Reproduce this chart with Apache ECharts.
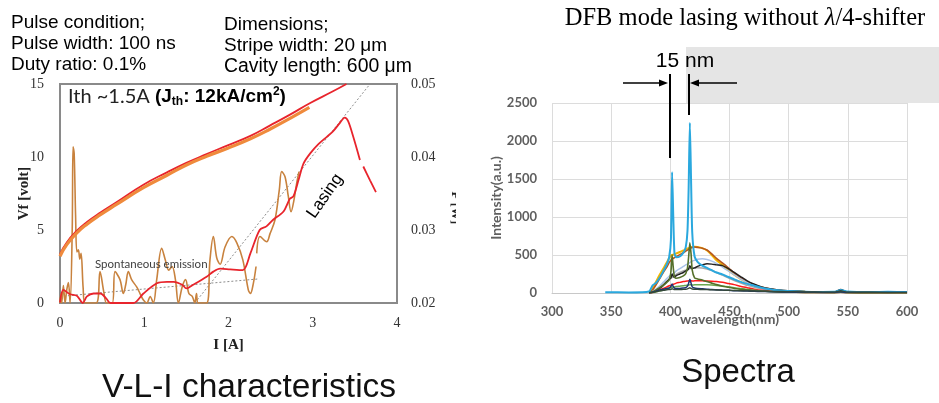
<!DOCTYPE html>
<html><head><meta charset="utf-8">
<script src="https://cdn.jsdelivr.net/npm/echarts@6/dist/echarts.min.js"></script>
<style>html,body{margin:0;padding:0;background:#fff}#c{width:939px;height:403px}</style>
</head><body><div id="c"></div>
<script>
// ---------- V-L-I characteristics (left) ----------
const vRedI   = [0, 0.08, 0.2, 0.32, 0.48, 0.67, 0.99, 1.27, 1.5, 1.74, 1.99, 2.26, 2.49, 2.73, 2.97, 3.24, 3.40];
const vRedV   = [3.35, 4.15, 4.95, 5.55, 6.2, 6.9, 8.1, 8.95, 9.6, 10.2, 10.8, 11.45, 12.15, 12.9, 13.7, 14.5, 15.0];
const vOrgI   = [0, 0.08, 0.2, 0.32, 0.48, 0.67, 0.99, 1.27, 1.5, 1.74, 1.99, 2.26, 2.49, 2.73, 2.96];
const vOrgV   = [3.2, 4.0, 4.8, 5.4, 6.05, 6.75, 7.9, 8.75, 9.45, 10.05, 10.6, 11.25, 11.9, 12.65, 13.4];
const lRedI   = [0, 0.04, 0.12, 0.2, 0.27, 0.32, 0.4, 0.48, 0.55, 0.6, 0.87, 0.99, 1.15, 1.27, 1.35, 1.45, 1.5, 1.58, 1.74, 1.82, 1.9, 2.02, 2.17, 2.26, 2.37, 2.45, 2.53, 2.65, 2.73, 2.77, 2.83, 2.89, 2.97, 3.07, 3.17, 3.24, 3.31, 3.38, 3.42, 3.48, 3.56, 3.58, 3.60, 3.68, 3.75];
const lRedP   = [0.0201, 0.0218, 0.0212, 0.0210, 0.0200, 0.0209, 0.0213, 0.0213, 0.0206, 0.0200, 0.0200, 0.0213, 0.0227, 0.0229, 0.0229, 0.0225, 0.0220, 0.0225, 0.0236, 0.0243, 0.0247, 0.0246, 0.0245, 0.0268, 0.0300, 0.0305, 0.0314, 0.0325, 0.0343, 0.0346, 0.0368, 0.0391, 0.0405, 0.0418, 0.0428, 0.0435, 0.0445, 0.0454, 0.0449, 0.0428, 0.0396, null, 0.0387, 0.0368, 0.0352];
const lOrgI   = [0, 0.01, 0.02, 0.04, 0.06, 0.08, 0.10, 0.12, 0.145, 0.155, 0.168, 0.185, 0.20, 0.218, 0.235, 0.25, 0.275, 0.297, 0.43, 0.475, 0.52, 0.554, 0.62, 0.653, 0.712, 0.752, 0.78, 0.811, 0.85, 0.91, 0.95, 0.99, 1.03, 1.07, 1.108, 1.148, 1.207, 1.25, 1.29, 1.33, 1.37, 1.405, 1.45, 1.49, 1.53, 1.57, 1.60, 1.62, 1.64, 1.74, 1.78, 1.82, 1.86, 1.90, 1.96, 2.04, 2.10, 2.17, 2.235, 2.26, 2.295, 2.327, 2.331, 2.335, 2.374, 2.453, 2.493, 2.552, 2.603, 2.631, 2.671, 2.710, 2.742, 2.777, 2.809, 2.837];
const lOrgP   = [0.0200, 0.0213, 0.0200, 0.0224, 0.0200, 0.0218, 0.0228, 0.0200, 0.0300, 0.0414, 0.0405, 0.0320, 0.0270, 0.0273, 0.0260, 0.0268, 0.0220, 0.0200, 0.0200, 0.0243, 0.0215, 0.0200, 0.0200, 0.0243, 0.0232, 0.0213, 0.0225, 0.0243, 0.0232, 0.0222, 0.0213, 0.0204, 0.0200, 0.0209, 0.0200, 0.0232, 0.0275, 0.0259, 0.0245, 0.0250, 0.0232, 0.0200, 0.0222, 0.0232, 0.0213, 0.0209, 0.0200, 0.0213, 0.0200, 0.0200, 0.0259, 0.0291, 0.0262, 0.0253, 0.0277, 0.0291, 0.0282, 0.0259, 0.0218, 0.0213, 0.0227, 0.0250, null, 0.0268, 0.0291, 0.0284, 0.0295, 0.0314, 0.0355, 0.0380, 0.0373, 0.0346, 0.0325, 0.0341, 0.0364, 0.0380];
const fitSpontI = [0, 2.36];
const fitSpontP = [0.0209, 0.0233];
const fitLaseI  = [1.6, 3.68];
const fitLaseP  = [0.020, 0.050];
const vliXTicks = [0, 4, 1];      // min, max, interval
const vliVTicks = [0, 15, 5];
const vliPTicks = [0.02, 0.05, 0.01];

// ---------- Spectra (right) ----------
const wl = [345, 365, 382, 385, 388, 391, 394, 397, 399, 400.5, 401.5, 402.5, 403.5, 405, 408, 411, 413, 414.5, 415.5, 416.5, 417.5, 418.5, 420.5, 423, 427, 431, 435, 439, 444, 449, 454, 459, 465, 471, 477, 484, 491, 499, 514, 529, 539, 544, 549, 569, 584, 600];
const spLasing = [10, 8, 20, 100, 135, 200, 285, 375, 470, 700, 1590, 1000, 520, 470, 480, 530, 600, 820, 1400, 2240, 1500, 800, 480, 410, 360, 330, 300, 270, 245, 210, 180, 150, 120, 95, 70, 50, 35, 25, 18, 14, 15, 40, 20, 12, 15, 12];
const spGold   = [null, null, 5, 60, 150, 240, 320, 400, 460, 490, 500, 505, 510, 520, 540, 560, 575, 585, 590, 595, 600, 605, 610, 605, 590, 560, 500, 430, 370, 300, 240, 190, 140, 100, 70, 45, 30, 22, 15, 12, 10, 22, 10, 8, 8, 6];
const spBrown  = [null, null, 4, 40, 110, 190, 270, 340, 400, 430, 445, 455, 465, 480, 505, 530, 550, 565, 575, 585, 595, 600, 605, 600, 590, 565, 515, 455, 395, 330, 265, 205, 150, 110, 78, 55, 38, 28, 18, 14, 12, 28, 12, 10, 9, 7];
const spLav    = [null, null, 4, 20, 50, 90, 140, 190, 220, 235, 245, 255, 265, 290, 320, 350, 370, 380, 390, 400, 410, 420, 430, 445, 450, 440, 420, 390, 340, 290, 240, 190, 140, 100, 70, 50, 35, 25, 15, 10, 10, 20, 10, 8, 6, 6];
const spGray   = [null, null, 3, 15, 40, 70, 110, 150, 180, 195, 205, 215, 225, 245, 270, 290, 300, 310, 315, 320, 325, 328, 330, 332, 328, 315, 295, 270, 235, 200, 165, 135, 100, 75, 55, 40, 30, 22, 14, 10, 10, 18, 9, 7, 6, 5];
const spBlack  = [null, null, 3, 10, 30, 60, 100, 150, 180, 200, 250, 220, 205, 230, 250, 270, 290, 300, 320, 360, 330, 320, 330, 350, 370, 385, 380, 370, 360, 320, 270, 220, 160, 115, 80, 55, 40, 28, 18, 12, 14, 45, 15, 10, 8, 10];
const spRed    = [null, null, 2, 8, 20, 40, 60, 80, 95, 100, 110, 115, 120, 130, 140, 150, 155, 158, 160, 165, 160, 158, 160, 162, 160, 158, 155, 150, 140, 125, 110, 90, 70, 50, 35, 25, 18, 12, 8, 6, 5, 10, 5, 4, 4, 3];
const spGreen  = [null, null, 2, 6, 15, 25, 40, 55, 65, 70, 75, 78, 80, 85, 90, 95, 100, 102, 105, 110, 108, 105, 108, 110, 110, 108, 105, 100, 92, 82, 70, 58, 45, 35, 26, 20, 15, 10, 7, 5, 5, 10, 5, 4, 3, 3];
const spOlive  = [null, null, 3, 15, 40, 70, 100, 140, 170, 280, 500, 330, 210, 195, 205, 225, 255, 330, 480, 660, 520, 300, 200, 185, 170, 150, 130, 110, 90, 75, 60, 50, 40, 30, 25, 20, 15, 12, 8, 6, 6, 12, 6, 5, 4, 4];
const spNavy   = [null, null, 2, 10, 25, 40, 50, 60, 65, 85, 120, 85, 65, 60, 60, 65, 70, 90, 130, 180, 130, 80, 65, 60, 55, 50, 45, 42, 38, 35, 30, 28, 25, 22, 20, 18, 15, 12, 10, 8, 8, 15, 8, 6, 5, 5];
const spSlate  = [null, null, 2, 8, 18, 28, 35, 42, 45, 48, 55, 50, 45, 44, 46, 48, 50, 55, 62, 70, 60, 52, 50, 48, 46, 44, 42, 40, 38, 36, 33, 30, 28, 26, 24, 22, 20, 18, 14, 12, 12, 30, 12, 10, 8, 8];
const spXTicks = [300, 600, 50];
const spYTicks = [0, 2500, 500];

function pairs(xs, ys) {
  const out = [];
  xs.forEach((x, i) => { out.push(ys[i] == null ? [x, '-'] : [x, ys[i]]); });
  return out;
}
function pairsSkip(xs, ys) {
  const out = [];
  xs.forEach((x, i) => { if (ys[i] != null) out.push([x, ys[i]]); });
  return out;
}

const serif = 'Liberation Serif';
const sans = 'Liberation Sans';

function vliLine(name, xs, ys, yIdx, color, width, smooth, dashed) {
  return {
    name, type: 'line', xAxisIndex: 0, yAxisIndex: yIdx, data: pairs(xs, ys),
    showSymbol: false, smooth: smooth, connectNulls: false, silent: true,
    lineStyle: { color, width, type: dashed ? [2, 2] : 'solid' }, z: dashed ? 1 : 3
  };
}
function spLine(name, ys, color, width) {
  return {
    name, type: 'line', xAxisIndex: 1, yAxisIndex: 2, data: pairsSkip(wl, ys),
    showSymbol: false, smooth: 0.2, silent: true,
    lineStyle: { color, width }
  };
}

const chart = echarts.init(document.getElementById('c'));
const option = {
  animation: false,
  backgroundColor: '#fff',
  grid: [
    { left: 60, top: 84, width: 337, height: 219, show: true, borderColor: '#8a8a8a', borderWidth: 2, backgroundColor: 'transparent' },
    { left: 552, top: 103, width: 355, height: 190 }
  ],
  xAxis: [
    { type: 'value', gridIndex: 0, min: vliXTicks[0], max: vliXTicks[1], interval: vliXTicks[2],
      axisLine: { show: false }, axisTick: { show: false }, splitLine: { show: false },
      axisLabel: { fontFamily: serif, fontSize: 14, color: '#333', margin: 13 },
      name: 'I [A]', nameLocation: 'middle', nameGap: 35, nameMoveOverlap: false,
      nameTextStyle: { fontFamily: serif, fontSize: 15, fontWeight: 'bold', color: '#222' } },
    { type: 'value', gridIndex: 1, min: spXTicks[0], max: spXTicks[1], interval: spXTicks[2],
      axisLine: { show: true, lineStyle: { color: '#c8c8c8' } }, axisTick: { show: false },
      splitLine: { show: true, lineStyle: { color: '#dcdcdc' } },
      axisLabel: { fontFamily: 'Lato', fontSize: 13, fontWeight: 'bold', color: '#5f5f5f', margin: 12 },
      name: 'wavelength(nm)', nameLocation: 'middle', nameGap: 19, nameMoveOverlap: false,
      nameTextStyle: { fontFamily: 'Lato', fontSize: 14, fontWeight: 'bold', color: '#5f5f5f' } }
  ],
  yAxis: [
    { type: 'value', gridIndex: 0, min: vliVTicks[0], max: vliVTicks[1], interval: vliVTicks[2],
      axisLine: { show: false }, axisTick: { show: false }, splitLine: { show: false },
      axisLabel: { fontFamily: serif, fontSize: 14, color: '#333', margin: 16 },
      name: 'Vf [volt]', nameLocation: 'middle', nameGap: 28, nameMoveOverlap: false,
      nameTextStyle: { fontFamily: serif, fontSize: 15, fontWeight: 'bold', color: '#222' } },
    { type: 'value', gridIndex: 0, position: 'right', min: vliPTicks[0], max: vliPTicks[1], interval: vliPTicks[2],
      axisLine: { show: false }, axisTick: { show: false }, splitLine: { show: false },
      axisLabel: { fontFamily: serif, fontSize: 14, color: '#333', margin: 14, formatter: v => v.toFixed(2) } },
    { type: 'value', gridIndex: 1, min: spYTicks[0], max: spYTicks[1], interval: spYTicks[2],
      axisLine: { show: false }, axisTick: { show: false },
      splitLine: { show: true, lineStyle: { color: '#dcdcdc' } },
      axisLabel: { fontFamily: 'Lato', fontSize: 13, fontWeight: 'bold', color: '#5f5f5f', margin: 15, formatter: v => String(v) },
      name: 'Intensity(a.u.)', nameLocation: 'middle', nameGap: 49, nameMoveOverlap: false,
      nameTextStyle: { fontFamily: 'Lato', fontSize: 14, fontWeight: 'bold', color: '#5f5f5f' } }
  ],
  series: [
    vliLine('fitSpont', fitSpontI, fitSpontP, 1, '#8c8c8c', 1, false, true),
    vliLine('fitLase', fitLaseI, fitLaseP, 1, '#8c8c8c', 1, false, true),
    vliLine('Lorg', lOrgI, lOrgP, 1, '#c8823e', 1.6, 0.35, false),
    vliLine('Lred', lRedI, lRedP, 1, '#e8242c', 1.8, 0.3, false),
    vliLine('Vred', vRedI, vRedV, 0, '#e8242c', 1.8, true, false),
    vliLine('Vorg', vOrgI, vOrgV, 0, '#ef8a3c', 3.2, true, false),
    spLine('gold', spGold, '#f2b400', 2),
    spLine('brown', spBrown, '#b5561e', 1.6),
    spLine('lav', spLav, '#a9c2e8', 1.5),
    spLine('gray', spGray, '#a8a8a8', 1.5),
    spLine('black', spBlack, '#222222', 1.5),
    spLine('red', spRed, '#ff1a1a', 1.5),
    spLine('green', spGreen, '#6aa84f', 1.5),
    spLine('lasing', spLasing, '#2aa8de', 2),
    spLine('olive', spOlive, '#55702a', 1.6),
    spLine('navy', spNavy, '#1f3470', 1.5),
    spLine('slate', spSlate, '#34483a', 1.4)
  ],
  graphic: [
    { type: 'rect', z: 0, shape: { x: 686, y: 47, width: 253, height: 56 }, style: { fill: '#e5e5e5' } },
    { type: 'text', z: 100, x: 11, y: 23, style: { text: 'Pulse condition;', fontFamily: sans, fontSize: 19, fill: '#000', verticalAlign: 'middle' } },
    { type: 'text', z: 100, x: 11, y: 44, style: { text: 'Pulse width: 100 ns', fontFamily: sans, fontSize: 19, fill: '#000', verticalAlign: 'middle' } },
    { type: 'text', z: 100, x: 11, y: 65, style: { text: 'Duty ratio: 0.1%', fontFamily: sans, fontSize: 19, fill: '#000', verticalAlign: 'middle' } },
    { type: 'text', z: 100, x: 224, y: 25, style: { text: 'Dimensions;', fontFamily: sans, fontSize: 19, fill: '#000', verticalAlign: 'middle' } },
    { type: 'text', z: 100, x: 224, y: 46, style: { text: 'Stripe width: 20 μm', fontFamily: sans, fontSize: 19, fill: '#000', verticalAlign: 'middle' } },
    { type: 'text', z: 100, x: 224, y: 67, style: { text: 'Cavity length: 600 μm', fontFamily: sans, fontSize: 19.4, fill: '#000', verticalAlign: 'middle' } },
    { type: 'text', z: 100, x: 68, y: 97, style: {
        text: '{a|Ith ~1.5A }{b|(J}{s|th}{b|: 12kA/cm}{p|2}{b|)}', verticalAlign: 'middle',
        rich: {
          a: { fontFamily: 'Lato', fontSize: 20, fill: '#222' },
          b: { fontFamily: sans, fontSize: 19, fontWeight: 'bold', fill: '#000' },
          s: { fontFamily: sans, fontSize: 12, fontWeight: 'bold', fill: '#000', verticalAlign: 'bottom', padding: [10, 0, 0, 0] },
          p: { fontFamily: sans, fontSize: 12, fontWeight: 'bold', fill: '#000', verticalAlign: 'top', padding: [0, 0, 9, 0] }
        } } },
    { type: 'text', z: 100, x: 95, y: 264, style: { text: 'Spontaneous emission', fontFamily: 'Lato', fontSize: 11.5, fill: '#404040', verticalAlign: 'middle' } },
    { type: 'text', z: 100, x: 325, y: 196, rotation: 55 * Math.PI / 180, style: { text: 'Lasing', fontFamily: sans, fontSize: 17, fill: '#000', align: 'center', verticalAlign: 'middle' } },
    { type: 'text', z: 100, x: 455, y: 208, rotation: -Math.PI / 2, style: { text: 'P [W]', fontFamily: serif, fontSize: 13, fontWeight: 'bold', fill: '#222', align: 'center', verticalAlign: 'middle' } },
    { type: 'rect', z: 101, shape: { x: 456, y: 170, width: 14, height: 80 }, style: { fill: '#fff' } },
    { type: 'text', z: 100, x: 249, y: 388, style: { text: 'V-L-I characteristics', fontFamily: sans, fontSize: 33.5, fill: '#111', align: 'center', verticalAlign: 'middle' } },
    { type: 'text', z: 100, x: 745, y: 19, style: {
        text: '{t|DFB mode lasing without }{i|λ}{t|/4-shifter}', align: 'center', verticalAlign: 'middle',
        rich: { t: { fontFamily: serif, fontSize: 24.5, fill: '#000' }, i: { fontFamily: serif, fontSize: 24.5, fontStyle: 'italic', fill: '#000' } } } },
    { type: 'text', z: 100, x: 685, y: 61, style: { text: '15 nm', fontFamily: sans, fontSize: 21, fill: '#000', align: 'center', verticalAlign: 'middle' } },
    { type: 'line', z: 100, shape: { x1: 623, y1: 83, x2: 661, y2: 83 }, style: { stroke: '#000', lineWidth: 1.3 } },
    { type: 'polygon', z: 100, shape: { points: [[668, 83], [659, 79.5], [659, 86.5]] }, style: { fill: '#000' } },
    { type: 'line', z: 100, shape: { x1: 737, y1: 83, x2: 697, y2: 83 }, style: { stroke: '#000', lineWidth: 1.3 } },
    { type: 'polygon', z: 100, shape: { points: [[690, 83], [699, 79.5], [699, 86.5]] }, style: { fill: '#000' } },
    { type: 'line', z: 100, shape: { x1: 670, y1: 74, x2: 670, y2: 158 }, style: { stroke: '#000', lineWidth: 2 } },
    { type: 'line', z: 100, shape: { x1: 689, y1: 74, x2: 689, y2: 115 }, style: { stroke: '#000', lineWidth: 2 } },
    { type: 'text', z: 100, x: 738, y: 373, style: { text: 'Spectra', fontFamily: sans, fontSize: 33, fill: '#111', align: 'center', verticalAlign: 'middle' } }
  ]
};
chart.setOption(option);
</script></body></html>
